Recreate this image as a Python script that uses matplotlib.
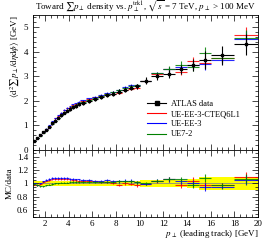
import numpy as np
import matplotlib
matplotlib.use("Agg")
from matplotlib import pyplot as plt
from matplotlib.ticker import MultipleLocator

plt.rcParams['font.family'] = ['Liberation Serif', 'DejaVu Serif']
plt.rcParams['mathtext.fontset'] = 'stix'

# bin edges of leading track pT [GeV]
bin_edges = [1.0, 1.25, 1.5, 1.75, 2.0, 2.25, 2.5, 2.75, 3.0, 3.25, 3.5, 3.75, 4.0,
             4.25, 4.5, 4.75, 5.0, 5.5, 6.0, 6.5, 7.0, 7.5, 8.0, 8.5, 9.0, 9.5, 10.0,
             11.0, 12.0, 13.0, 14.0, 15.0, 16.0, 18.0, 20.0]

data_vals = [0.37, 0.49, 0.60, 0.72, 0.83, 0.94, 1.08, 1.20, 1.31, 1.41, 1.52, 1.60,
             1.67, 1.74, 1.80, 1.86, 1.93, 2.00, 2.08, 2.17, 2.23, 2.30, 2.38, 2.46,
             2.53, 2.60, 2.82, 3.00, 3.10, 3.28, 3.47, 3.67, 3.86, 4.31]
# relative uncertainty of data (yellow band)
data_relerr = [0.04, 0.04, 0.04, 0.04, 0.04, 0.04, 0.04, 0.04, 0.04, 0.04, 0.04, 0.04,
               0.04, 0.04, 0.04, 0.04, 0.04, 0.04, 0.04, 0.04, 0.04, 0.04, 0.04, 0.04,
               0.04, 0.04, 0.05, 0.05, 0.05, 0.05, 0.07, 0.10, 0.10, 0.10]

# MC / data ratios
ratio_cteq = [0.98, 0.97, 0.99, 1.02, 1.04, 1.05, 1.06, 1.07, 1.07, 1.07, 1.07, 1.06,
              1.06, 1.05, 1.05, 1.04, 1.04, 1.03, 1.03, 1.02, 1.02, 1.00, 0.98, 1.00,
              0.99, 0.97, 0.99, 1.03, 1.06, 0.97, 1.04, 0.97, 0.97, 1.09]
ratio_ee3 = [1.00, 0.98, 1.00, 1.03, 1.05, 1.07, 1.08, 1.08, 1.08, 1.08, 1.08, 1.08,
             1.07, 1.07, 1.06, 1.06, 1.05, 1.05, 1.04, 1.04, 1.05, 1.03, 1.03, 1.04,
             1.04, 1.02, 0.99, 1.04, 1.06, 1.03, 1.00, 0.95, 0.95, 1.05]
ratio_ue72 = [0.99, 0.97, 0.96, 0.96, 0.97, 0.98, 0.99, 1.00, 1.00, 1.01, 1.01, 1.01,
              1.02, 1.02, 1.02, 1.02, 1.02, 1.02, 1.02, 1.02, 1.02, 1.02, 1.03, 1.03,
              1.03, 1.02, 1.00, 1.04, 1.07, 1.06, 0.98, 1.08, 0.97, 1.06]
mc_relerr = [0.01, 0.01, 0.01, 0.01, 0.01, 0.01, 0.01, 0.01, 0.01, 0.01, 0.01, 0.01,
             0.01, 0.01, 0.01, 0.01, 0.01, 0.01, 0.01, 0.015, 0.015, 0.015, 0.02, 0.02,
             0.02, 0.02, 0.02, 0.02, 0.03, 0.04, 0.05, 0.06, 0.04, 0.07]

mc_names = ["UE-EE-3-CTEQ6L1", "UE-EE-3", "UE7-2"]
mc_colors = ["red", "blue", "green"]

edges = np.array(bin_edges)
xc = 0.5 * (edges[1:] + edges[:-1])
xw = 0.5 * (edges[1:] - edges[:-1])
data = np.array(data_vals)
derr = data * np.array(data_relerr)

fig = plt.figure(figsize=(2.66, 2.4), dpi=100)
ax = fig.add_axes([0.124, 0.375, 0.846, 0.5625])
rax = fig.add_axes([0.124, 0.096, 0.846, 0.279], sharex=ax)

handles = []
for name, col, rat in zip(mc_names, mc_colors, [ratio_cteq, ratio_ee3, ratio_ue72]):
    rat = np.array(rat)
    mc = data * rat
    err = mc * np.array(mc_relerr)
    ax.errorbar(xc, mc, xerr=xw, yerr=err, fmt='none', ecolor=col, elinewidth=0.8, alpha=0.85)
    rax.errorbar(xc, rat, xerr=xw, yerr=rat * np.array(mc_relerr), fmt='none',
                 ecolor=col, elinewidth=0.8, alpha=0.85)
    h, = ax.plot([], [], color=col, lw=0.8, label=name)
    handles.append(h)

ax.errorbar(xc, data, xerr=xw, yerr=derr, fmt='none', ecolor='black', elinewidth=0.8)
ax.plot(xc, data, 's', color='black', ms=1.8)
hd, = ax.plot([], [], '-s', color='black', lw=0.8, ms=2.2, label="ATLAS data")
handles.insert(0, hd)

# yellow data band in ratio
band = np.array(data_relerr)
rax.fill_between(edges, np.append(1 - band, 1 - band[-1]), np.append(1 + band, 1 + band[-1]),
                 step='post', color='#ffff00', lw=0, zorder=0)
rax.axhline(1.0, color='#888888', lw=0.6, zorder=0.5)

ax.set_xlim(1, 20)
ax.set_ylim(0, 5.5)
rax.set_ylim(0.5, 1.5)

for a in (ax, rax):
    a.xaxis.set_major_locator(MultipleLocator(2))
    a.xaxis.set_minor_locator(MultipleLocator(0.5))
    a.tick_params(which='both', direction='in', top=True, right=True, labelsize=6.5)
    a.tick_params(which='major', length=4, width=0.5)
    a.tick_params(which='minor', length=2, width=0.5)
    for s in a.spines.values():
        s.set_linewidth(0.6)

ax.yaxis.set_major_locator(MultipleLocator(1))
ax.yaxis.set_minor_locator(MultipleLocator(0.2))
rax.yaxis.set_minor_locator(MultipleLocator(0.05))
rax.set_yticks([0.6, 0.8, 1.0, 1.2, 1.4])
rax.set_yticklabels(["0.6", "0.8", "1", "1.2", "1.4"])
rax.tick_params(axis='x', pad=2)
plt.setp(ax.get_xticklabels(), visible=False)

ax.set_title(r"Toward $\sum p_\perp$ density vs. $p_\perp^{\rm trk1}$, $\sqrt{s}$ = 7 TeV, $p_\perp$ > 100 MeV",
             fontsize=6.5, pad=4)
ax.set_ylabel(r"$\langle \mathrm{d}^2 \sum p_\perp / \mathrm{d}\eta \mathrm{d}\phi \rangle$ [GeV]",
              fontsize=6.5, loc='top', labelpad=2)
rax.set_ylabel("MC/data", fontsize=6.5, labelpad=2)
rax.set_xlabel(r"$p_\perp$ (leading track) [GeV]", fontsize=6.5, loc='right', labelpad=0)

ax.legend(handles=handles, loc='upper left', bbox_to_anchor=(0.49, 0.40), fontsize=6,
          frameon=False, handlelength=2.2, labelspacing=0.25, borderpad=0.0, handletextpad=0.6)

fig.savefig("out.png", dpi=100)
